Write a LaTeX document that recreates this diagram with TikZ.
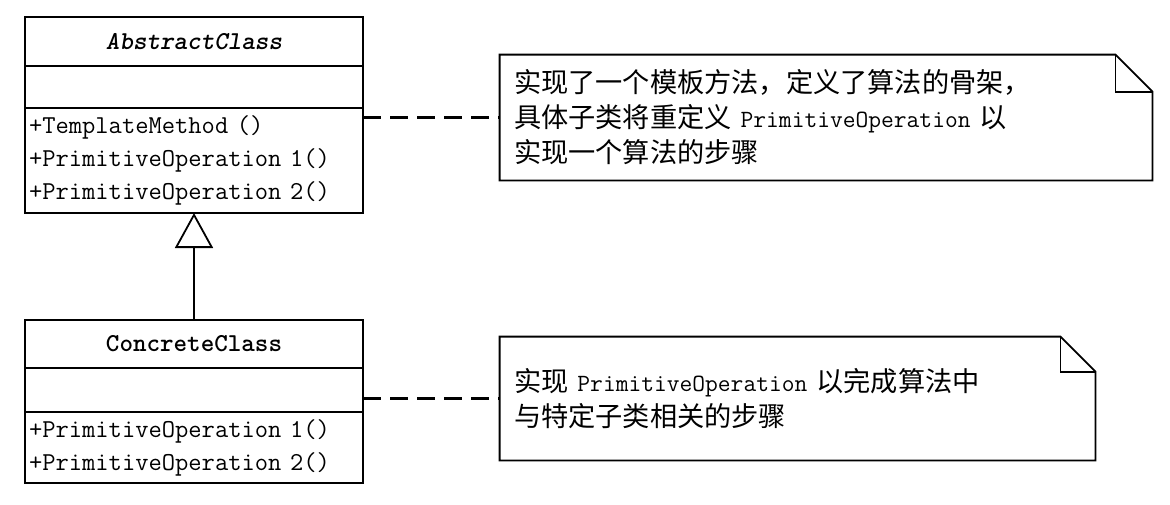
\documentclass[tikz,border=0pt]{standalone}
\usepackage{fontspec}
\newfontfamily\cjk{Noto Sans CJK SC}
\usetikzlibrary{arrows.meta, positioning}

\newcommand\lat[1]{{\ttfamily\fontsize{12.4}{17.5}\selectfont #1}}

\tikzset{
  umlpart/.style={draw, line width=0.9pt, outer sep=0pt, minimum width=169pt, inner sep=1pt,
    font=\ttfamily\fontsize{12.9}{16.5}\selectfont},
  umlname/.style={umlpart, font=\ttfamily\bfseries\fontsize{12.9}{14}\selectfont},
  umlops/.style={umlpart, text width=165pt, align=left},
  notebox/.style={inner sep=7pt, align=left, font=\cjk\fontsize{13.6}{17.5}\selectfont},
  notelink/.style={line width=1.8pt, dash pattern=on 9pt off 4.5pt},
  inherit/.style={line width=0.8pt, -{Triangle[open, length=17.5pt, width=19pt, line width=0.9pt]}}
}

\begin{document}
\begin{tikzpicture}[x=0.5pt, y=-0.5pt]
  \useasboundingbox (0,0) rectangle (1170,504);

  % abstract class
  \node[umlname, minimum height=24.5pt, anchor=north west] (absname) at (25,17) {\itshape AbstractClass};
  \node[umlpart, minimum height=21pt, below=0pt of absname] (absattr) {};
  \node[umlops, minimum height=52.5pt, below=0pt of absattr] (absops)
    {+TemplateMethod ()\\+PrimitiveOperation 1()\\+PrimitiveOperation 2()};

  % concrete class
  \node[umlname, minimum height=24pt, anchor=north west] (conname) at (25,320) {ConcreteClass};
  \node[umlpart, minimum height=22pt, below=0pt of conname] (conattr) {};
  \node[umlops, minimum height=35.5pt, below=0pt of conattr] (conops)
    {+PrimitiveOperation 1()\\+PrimitiveOperation 2()};

  % notes
  \node[notebox, text width=312pt, minimum height=62.5pt] (note1) at (826,117.5)
    {实现了一个模板方法，定义了算法的骨架，\\具体子类将重定义 \lat{PrimitiveOperation} 以\\实现一个算法的步骤};
  \node[notebox, text width=283.5pt, minimum height=61.5pt] (note2) at (797.5,398.5)
    {实现 \lat{PrimitiveOperation} 以完成算法中\\与特定子类相关的步骤};

  \foreach \n/\f in {note1/18.5pt, note2/17.5pt} {
    \draw[line width=0.9pt] (\n.north west) -- ([xshift=-\f]\n.north east) -- ([yshift=-\f]\n.north east)
      -- (\n.south east) -- (\n.south west) -- cycle;
    \draw[line width=0.9pt] ([xshift=-\f]\n.north east) |- ([yshift=-\f]\n.north east);
  }

  % connectors
  \draw[inherit] (conname.north) -- (absops.south);
  \draw[notelink] (absops.east |- note1.west) -- (note1.west);
  \draw[notelink] (conattr.east |- note2.west) -- (note2.west);
\end{tikzpicture}
\end{document}
